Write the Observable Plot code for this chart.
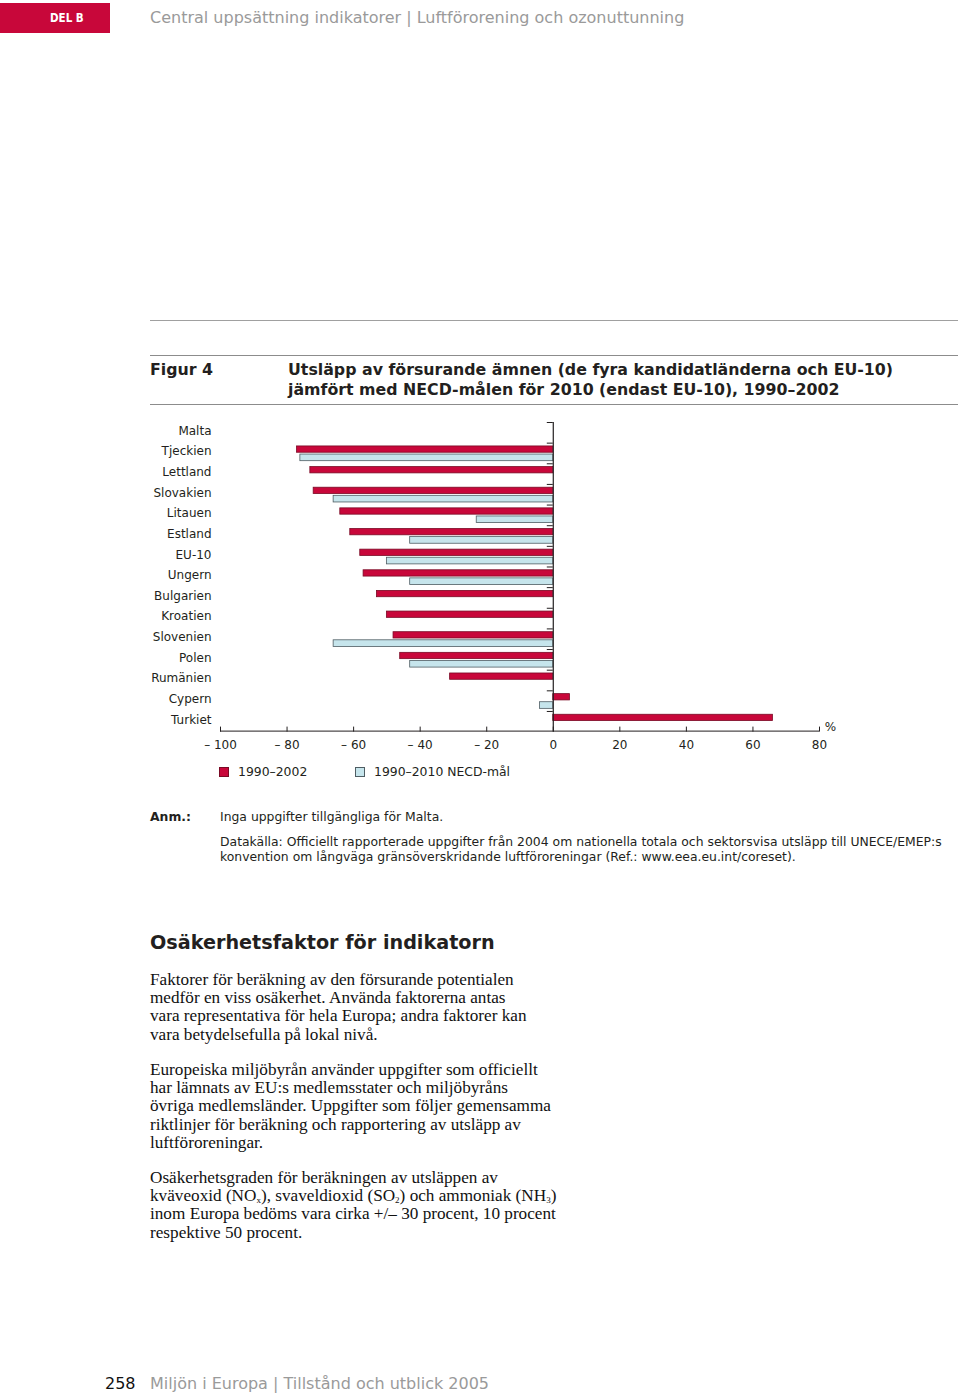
<!DOCTYPE html>
<html>
<head>
<meta charset="utf-8">
<script src="https://cdn.jsdelivr.net/npm/d3@7"></script>
<script src="https://cdn.jsdelivr.net/npm/@observablehq/plot@0.6"></script>
<style>
  html, body { margin: 0; padding: 0; background: #fff; }
  body { width: 960px; height: 1396px; position: relative; overflow: hidden; font-family: "DejaVu Sans", Verdana, sans-serif; color: #231f20; }
  .abs { position: absolute; white-space: nowrap; }
  .delb { left: 0; top: 3px; width: 110px; height: 30px; background: #c8073a; color: #fff; font-family: "DejaVu Sans Condensed", "DejaVu Sans", sans-serif; font-weight: bold; font-size: 11.5px; line-height: 30px; text-indent: 50px; }
  .hdr { left: 150px; top: 8px; font-size: 16px; color: #9a9a9a; }
  .hline { position: absolute; height: 0; border-top: 1px solid #8c8c8c; }
  .figlab { left: 150px; top: 360px; font-weight: bold; font-size: 15.8px; line-height: 20px; }
  .figtitle { left: 288px; top: 360px; font-weight: bold; font-size: 15.8px; line-height: 20px; }
  .legend { top: 764px; font-size: 12.4px; }
  .sw { display: inline-block; width: 10px; height: 10px; vertical-align: -1px; margin-right: 9px; box-sizing: border-box; }
  .note { font-size: 12.4px; }
  .h2 { left: 150px; top: 931px; font-weight: bold; font-size: 19.2px; }
  .body { left: 150px; font-family: "Liberation Serif", "Times New Roman", serif; font-size: 17.2px; line-height: 18.2px; color: #111; }
  .body sub { font-size: 9px; line-height: 0; vertical-align: -2px; }
  .foot { top: 1374px; font-size: 16px; }
</style>
</head>
<body>
<div class="abs delb">DEL B</div>
<div class="abs hdr">Central uppsättning indikatorer | Luftförorening och ozonuttunning</div>
<div class="hline" style="left:150px; width:808px; top:320px; border-color:#a0a0a0;"></div>
<div class="hline" style="left:150px; width:808px; top:355px;"></div>
<div class="abs figlab">Figur 4</div>
<div class="abs figtitle">Utsläpp av försurande ämnen (de fyra kandidatländerna och EU-10)<br>jämfört med NECD-målen för 2010 (endast EU-10), 1990–2002</div>
<div class="hline" style="left:150px; width:808px; top:404px;"></div>

<div id="chart" class="abs" style="left:140px; top:412px; line-height:0;"></div>

<div class="abs legend" style="left:219px;"><span class="sw" id="sw1"></span>1990–2002</div>
<div class="abs legend" style="left:355px;"><span class="sw" id="sw2"></span>1990–2010 NECD-mål</div>

<div class="abs note" style="left:150px; top:809px; font-weight:bold;">Anm.:</div>
<div class="abs note" style="left:220px; top:809px;">Inga uppgifter tillgängliga för Malta.</div>
<div class="abs note" style="left:220px; top:834px; line-height:15px;">Datakälla: Officiellt rapporterade uppgifter från 2004 om nationella totala och sektorsvisa utsläpp till UNECE/EMEP:s<br>konvention om långväga gränsöverskridande luftföroreningar (Ref.: www.eea.eu.int/coreset).</div>

<div class="abs h2">Osäkerhetsfaktor för indikatorn</div>
<div class="abs body" style="top:971px;">Faktorer för beräkning av den försurande potentialen<br>medför en viss osäkerhet. Använda faktorerna antas<br>vara representativa för hela Europa; andra faktorer kan<br>vara betydelsefulla på lokal nivå.</div>
<div class="abs body" style="top:1061px;">Europeiska miljöbyrån använder uppgifter som officiellt<br>har lämnats av EU:s medlemsstater och miljöbyråns<br>övriga medlemsländer. Uppgifter som följer gemensamma<br>riktlinjer för beräkning och rapportering av utsläpp av<br>luftföroreningar.</div>
<div class="abs body" style="top:1169px;">Osäkerhetsgraden för beräkningen av utsläppen av<br>kväveoxid (NO<sub>x</sub>), svaveldioxid (SO<sub>2</sub>) och ammoniak (NH<sub>3</sub>)<br>inom Europa bedöms vara cirka +/– 30 procent, 10 procent<br>respektive 50 procent.</div>

<div class="abs foot" style="left:105px; color:#111;">258</div>
<div class="abs foot" style="left:150px; color:#9a9a9a;">Miljön i Europa | Tillstånd och utblick 2005</div>

<script>
// ---- data ----
const countries = ["Malta", "Tjeckien", "Lettland", "Slovakien", "Litauen", "Estland", "EU-10", "Ungern", "Bulgarien", "Kroatien", "Slovenien", "Polen", "Rumänien", "Cypern", "Turkiet"];
const change1990_2002 = [null, -77, -73, -72, -64, -61, -58, -57, -53, -50, -48, -46, -31, 5, 66];
const necdTarget2010 = [null, -76, null, -66, -23, -43, -50, -43, null, null, -66, -43, null, -4, null];
const xTicks = [-100, -80, -60, -40, -20, 0, 20, 40, 60, 80];
const seriesNames = ["1990–2002", "1990–2010 NECD-mål"];

const red = "#c8073a", redStroke = "#7a0a25";
const blue = "#c6e5ec", blueStroke = "#4f5d63";
const ink = "#231f20";

document.getElementById("sw1").style.cssText += `background:${red};border:1px solid ${redStroke};`;
document.getElementById("sw2").style.cssText += `background:${blue};border:1px solid ${blueStroke};`;

const rowsA = countries.map((c, i) => ({country: c, value: change1990_2002[i]})).filter(d => d.value != null);
const rowsB = countries.map((c, i) => ({country: c, value: necdTarget2010[i]})).filter(d => d.value != null);

const H = 360, MT = 10, MB = 40.4;
const band = (H - MT - MB) / countries.length;

const chart = Plot.plot({
  width: 720,
  height: H,
  marginTop: MT,
  marginBottom: MB,
  marginLeft: 80,
  marginRight: 41,
  style: {fontFamily: "DejaVu Sans, Verdana, sans-serif", fontSize: "12px", color: ink, background: "transparent"},
  x: {domain: [-100, 80]},
  y: {domain: countries, padding: 0, round: false},
  marks: [
    Plot.barX(rowsA, {y: "country", x1: 0, x2: "value", fill: red, stroke: redStroke, strokeWidth: 0.8, insetTop: 3.3, insetBottom: band - 9.6}),
    Plot.barX(rowsB, {y: "country", x1: 0, x2: "value", fill: blue, stroke: blueStroke, strokeWidth: 0.8, insetTop: 11.4, insetBottom: 2.6}),
    // small ticks on the zero line at band boundaries
    Plot.barX(countries, {y: d => d, x1: -1.8, x2: 0, fill: ink, insetBottom: band - 1}),
    // zero line
    Plot.ruleX([0], {stroke: ink, strokeWidth: 1.2}),
    // x axis line and upward ticks
    Plot.barX([0], {y: () => countries[countries.length - 1], x1: -100, x2: 80, fill: ink, insetTop: band - 1}),
    Plot.tickX(xTicks, {x: d => d, y: () => countries[countries.length - 1], stroke: ink, insetTop: band - 5}),
    Plot.axisX({ticks: xTicks, tickSize: 0, tickPadding: 8, tickFormat: d => d < 0 ? "– " + Math.abs(d) : String(d), label: null, fill: ink}),
    Plot.axisY({tickSize: 0, tickPadding: 9, dy: -2, label: null, fill: ink}),
    Plot.text(["%"], {frameAnchor: "bottom-right", textAnchor: "middle", dx: 11, dy: -1, fill: ink, fontSize: 12})
  ]
});
document.getElementById("chart").appendChild(chart);
</script>
</body>
</html>
